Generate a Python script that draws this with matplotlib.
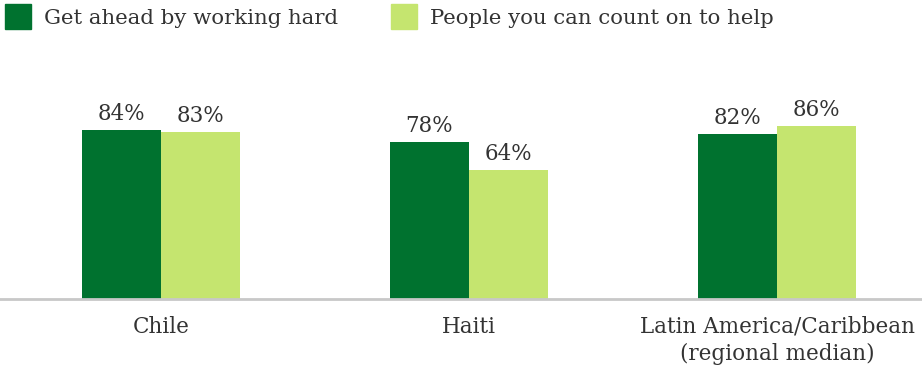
import matplotlib
matplotlib.use("Agg")
import matplotlib.pyplot as plt
import numpy as np

categories = ["Chile", "Haiti", "Latin America/Caribbean\n(regional median)"]
series_names = ["Get ahead by working hard", "People you can count on to help"]
work_hard = [84, 78, 82]
count_on = [83, 64, 86]

dark = "#00722f"
light = "#c5e56f"
text_col = "#333333"

plt.rcParams["font.family"] = ["DejaVu Serif"]

fig = plt.figure(figsize=(9.22, 3.75), dpi=100)
ax = fig.add_axes([0, 76 / 375, 1, 201 / 375])

x = np.arange(len(categories))
w = 79 / 308
b1 = ax.bar(x - w / 2, work_hard, w, color=dark)
b2 = ax.bar(x + w / 2, count_on, w, color=light)

for bars, vals in ((b1, work_hard), (b2, count_on)):
    for r, v in zip(bars, vals):
        ax.annotate(f"{v}%", (r.get_x() + r.get_width() / 2, v),
                    xytext=(0, 7.2), textcoords="offset points",
                    ha="center", va="baseline", fontsize=15.5, color=text_col)

ax.set_xlim(-161 / 308, (922 - 161) / 308)
ax.set_ylim(0, 100)
ax.set_xticks(x)
ax.set_xticklabels(categories, fontsize=15.5, color=text_col, linespacing=1.3)
ax.tick_params(axis="x", length=0, pad=12)
ax.set_yticks([])
for s in ("top", "left", "right"):
    ax.spines[s].set_visible(False)
ax.spines["bottom"].set_color("#c8c8c8")
ax.spines["bottom"].set_linewidth(2)

# legend row across the top
for xs, xt, col, name in ((5, 44, dark, series_names[0]), (391, 430, light, series_names[1])):
    fig.patches.append(plt.Rectangle((xs / 922, 1 - 29 / 375), 26 / 922, 25 / 375,
                                     transform=fig.transFigure, color=col))
    fig.text(xt / 922, 1 - 24 / 375, name, fontsize=15.3, color=text_col,
             ha="left", va="baseline")

fig.savefig("out.png", dpi=100)
